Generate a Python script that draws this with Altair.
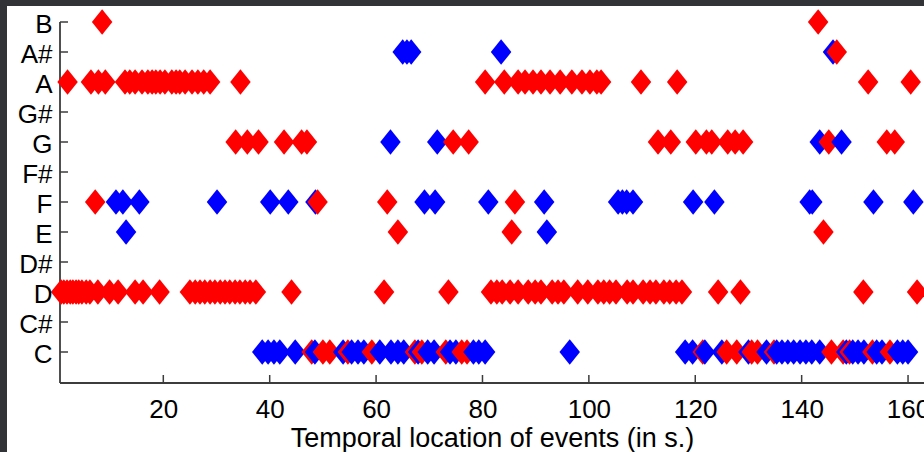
import json
import altair as alt
import pandas as pd

# ---------------- data (seconds) ----------------
note_names = ["C", "C#", "D", "D#", "E", "F", "F#", "G", "G#", "A", "A#", "B"]
x_ticks = [20, 40, 60, 80, 100, 120, 140, 160]
x_title = "Temporal location of events (in s.)"

red_B = [8.5, 143.1]
red_Asharp = [146.6]
red_A = [2.0, 6.4, 7.8, 9.1, 12.8, 13.7, 14.7, 16.0, 17.1, 17.9, 18.6, 19.4, 20.3,
         21.6, 22.4, 23.1, 24.1, 25.4, 26.5, 27.6, 28.8, 34.5, 80.5, 84.1, 86.7,
         88.0, 89.5, 91.0, 92.7, 94.6, 96.8, 98.7, 100.2, 101.5, 102.3, 109.8,
         116.6, 152.5, 160.5]
red_G = [33.6, 35.8, 37.9, 42.7, 46.0, 47.0, 74.5, 77.4, 113.0, 115.4, 120.1,
         122.1, 123.1, 126.1, 127.5, 129.0, 145.1, 156.0, 157.5]
red_F = [7.2, 49.0, 62.1, 86.1]
red_E = [64.1, 85.5, 144.1]
red_D = [0.8, 1.3, 1.9, 2.5, 3.0, 3.6, 4.1, 4.7, 5.5, 6.2, 7.7, 9.9, 11.5, 14.7,
         16.2, 19.3, 25.0, 26.0, 26.9, 27.8, 28.8, 29.7, 30.7, 31.6, 32.5, 33.5,
         34.4, 35.4, 36.3, 37.4, 44.1, 61.5, 73.6, 81.6, 82.7, 83.7, 85.2, 86.7,
         88.6, 89.9, 91.0, 93.1, 94.2, 95.3, 97.9, 99.8, 101.7, 102.8, 103.9,
         105.1, 107.2, 108.3, 110.2, 111.5, 112.6, 114.1, 115.2, 116.4, 117.5,
         124.3, 128.5, 151.6, 161.7]
red_C = [47.9, 50.0, 51.3, 54.7, 59.2, 67.3, 68.6, 73.1, 76.1, 77.1, 121.4, 125.9,
         127.8, 130.6, 131.7, 134.8, 145.6, 147.8, 149.0, 153.3, 156.6]

blue_Asharp = [65.0, 65.8, 66.6, 83.5, 145.9]
blue_G = [62.7, 71.5, 143.4, 147.5]
blue_F = [11.1, 12.4, 15.5, 30.1, 40.1, 43.5, 48.6, 69.1, 71.1, 81.1, 91.6, 105.5,
          106.3, 107.1, 108.3, 119.6, 123.6, 141.5, 142.0, 153.5, 161.0]
blue_E = [13.0, 92.1]
blue_C = [38.6, 39.7, 40.8, 41.9, 44.8, 48.5, 53.8, 55.4, 56.6, 57.7, 60.7, 62.8,
          64.1, 65.2, 67.9, 69.7, 70.9, 73.9, 75.0, 78.3, 79.3, 80.5, 96.4, 118.1,
          119.5, 121.8, 125.0, 130.0, 133.4, 135.3, 136.3, 137.4, 138.5, 139.7,
          140.8, 141.9, 143.4, 148.4, 149.6, 150.6, 151.7, 154.1, 155.1, 158.0,
          159.0, 160.0]

series = [
    ("red", "B", red_B), ("red", "A#", red_Asharp), ("red", "A", red_A),
    ("red", "G", red_G), ("red", "F", red_F), ("red", "E", red_E),
    ("red", "D", red_D), ("red", "C", red_C),
    ("blue", "A#", blue_Asharp), ("blue", "G", blue_G), ("blue", "F", blue_F),
    ("blue", "E", blue_E), ("blue", "C", blue_C),
]

rows = []
for col, note, times in series:
    for t in times:
        rows.append({"t": t, "pitch": note_names.index(note), "series": col})
df = pd.DataFrame(rows).sort_values("t", kind="stable").reset_index(drop=True)

# ---------------- layout ----------------
W, H = 864, 361
AXIS_COLOR = "#3c3c3c"
FONT = "Liberation Sans"

x_scale = alt.Scale(domain=[0.58, 163.0], nice=False, zero=False)
y_scale = alt.Scale(domain=[-1.0333, 11], nice=False, zero=False)

label_expr = json.dumps(note_names) + "[datum.value]"

x_axis = alt.Axis(values=x_ticks, title=x_title, titleX=W / 2, titleY=63.5,
                  titleBaseline="alphabetic", titleAlign="center", titleFontSize=27,
                  labelPadding=13, labelFontSize=26,
                  domain=False, ticks=False, grid=False, zindex=1)
y_axis = alt.Axis(values=list(range(len(note_names))), labelExpr=label_expr,
                  title="", labelPadding=8, labelOffset=2, labelFontSize=26,
                  domain=False, ticks=False, grid=False, zindex=1)

one = alt.Data(values=[{"a": 1}])

bg = alt.Chart(one).mark_rect(color="white").encode(
    x=alt.value(-53), x2=alt.value(W), y=alt.value(-16), y2=alt.value(430)
)

yline = alt.Chart(one).mark_rule(color=AXIS_COLOR, strokeWidth=1.8).encode(
    x=alt.value(0), y=alt.value(0), y2=alt.value(H)
)
xline = alt.Chart(one).mark_rule(color=AXIS_COLOR, strokeWidth=1.8).encode(
    x=alt.value(0), x2=alt.value(W), y=alt.value(H)
)

ytick_df = pd.DataFrame({"pitch": list(range(len(note_names)))})
yticks = alt.Chart(ytick_df).mark_rule(color=AXIS_COLOR, strokeWidth=1.5).encode(
    y=alt.Y("pitch:Q", scale=y_scale, axis=y_axis),
    x=alt.value(0), x2=alt.value(8),
)

xtick_df = pd.DataFrame({"t": x_ticks})
xticks = alt.Chart(xtick_df).mark_rule(color=AXIS_COLOR, strokeWidth=1.5).encode(
    x=alt.X("t:Q", scale=x_scale, axis=x_axis),
    y=alt.value(H), y2=alt.value(H - 8),
)

points = alt.Chart(df).mark_point(
    shape="M0,-1.25L1,0L0,1.25L-1,0Z", size=420, filled=True, opacity=1, strokeWidth=0
).encode(
    x=alt.X("t:Q", scale=x_scale, axis=x_axis),
    y=alt.Y("pitch:Q", scale=y_scale, axis=y_axis),
    color=alt.Color("series:N",
                    scale=alt.Scale(domain=["red", "blue"], range=["#ff0000", "#0000ff"]),
                    legend=None),
)

chart = alt.layer(bg, yline, xline, yticks, xticks, points).properties(
    width=W, height=H,
    autosize=alt.AutoSizeParams(type="none"),
    padding={"left": 60, "top": 22, "right": 0, "bottom": 69},
    background="#313336",
).configure_view(strokeWidth=0).configure_axis(
    labelFont=FONT, labelColor="black",
    titleFont=FONT, titleColor="black", titleFontWeight="normal",
)

chart.save("out.html", embed_options={"renderer": "svg", "actions": False})
